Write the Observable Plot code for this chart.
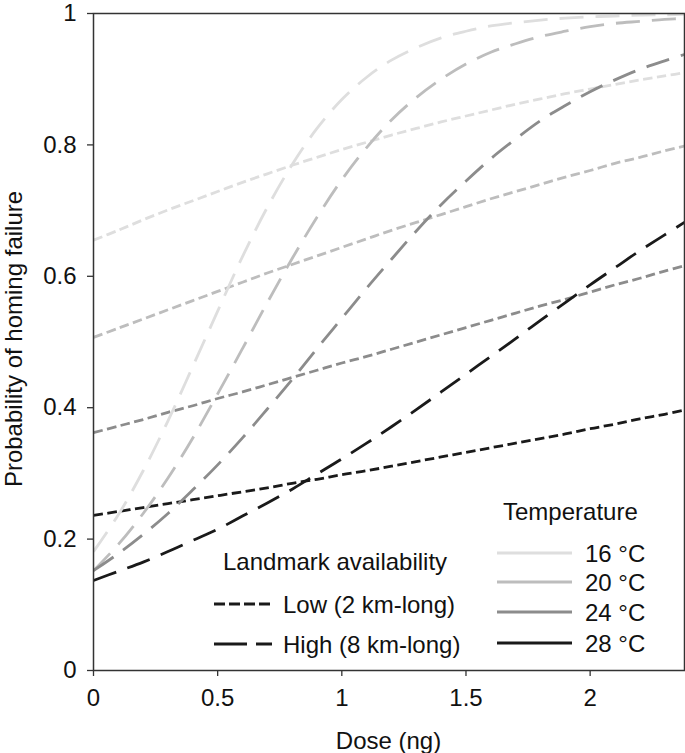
<!DOCTYPE html>
<html><head><meta charset="utf-8">
<script src="https://cdn.jsdelivr.net/npm/d3@7"></script>
<script src="https://cdn.jsdelivr.net/npm/@observablehq/plot@0.6"></script>
<style>body{margin:0;background:#fff} #chart{width:685px;height:753px}</style>
</head><body><div id="chart"></div>
<script>
// Dose (ng) sample points
const dose = [0,0.1,0.2,0.3,0.4,0.5,0.6,0.7,0.8,0.9,1.0,1.1,1.2,1.3,1.4,1.5,1.6,1.7,1.8,1.9,2.0,2.1,2.2,2.3,2.4];

// Low landmark availability (2 km-long), probability of homing failure
const low16 = [0.655,0.670,0.686,0.701,0.715,0.729,0.743,0.756,0.769,0.781,0.793,0.804,0.815,0.825,0.835,0.844,0.853,0.862,0.870,0.878,0.885,0.892,0.899,0.905,0.911];
const low20 = [0.507,0.521,0.535,0.549,0.563,0.577,0.591,0.605,0.618,0.631,0.644,0.657,0.670,0.682,0.694,0.706,0.718,0.729,0.740,0.751,0.761,0.772,0.781,0.791,0.800];
const low24 = [0.362,0.372,0.382,0.393,0.403,0.414,0.424,0.435,0.446,0.457,0.468,0.478,0.489,0.500,0.511,0.522,0.533,0.544,0.555,0.565,0.576,0.587,0.597,0.608,0.618];
const low28 = [0.236,0.242,0.248,0.254,0.260,0.266,0.272,0.278,0.285,0.291,0.298,0.304,0.311,0.318,0.325,0.332,0.339,0.346,0.353,0.360,0.368,0.375,0.383,0.390,0.398];

// High landmark availability (8 km-long)
const high16 = [0.181,0.237,0.304,0.380,0.463,0.547,0.630,0.705,0.770,0.825,0.869,0.903,0.929,0.948,0.963,0.973,0.981,0.986,0.990,0.993,0.995,0.996,0.9975,0.998,0.999];
const high20 = [0.152,0.192,0.239,0.293,0.354,0.421,0.490,0.560,0.627,0.690,0.747,0.796,0.838,0.872,0.900,0.923,0.941,0.954,0.965,0.973,0.980,0.985,0.988,0.991,0.993];
const high24 = [0.152,0.178,0.207,0.239,0.275,0.313,0.354,0.398,0.443,0.490,0.536,0.582,0.626,0.669,0.709,0.745,0.779,0.809,0.837,0.860,0.881,0.899,0.915,0.928,0.940];
const high28 = [0.137,0.151,0.165,0.181,0.198,0.215,0.235,0.255,0.276,0.299,0.322,0.346,0.371,0.397,0.424,0.451,0.478,0.505,0.533,0.560,0.587,0.613,0.639,0.663,0.687];

const temps = ["16 °C","20 °C","24 °C","28 °C"];
const tempColors = ["#dedede","#bdbdbd","#8c8c8c","#1a1a1a"];
const landmarks = ["Low (2 km-long)","High (8 km-long)"];
const landmarkDash = ["9.5,4.5","24,12"];
const legendDash = ["11,4","33,9"];
const xTicks = [0,0.5,1,1.5,2];
const yTicks = [0,0.2,0.4,0.6,0.8,1];

const lowSeries = [low16, low20, low24, low28];
const highSeries = [high16, high20, high24, high28];

function table(values){ return values.map((p,i)=>({dose: dose[i], p})); }

const lineMarks = [];
[lowSeries, highSeries].forEach((group, g) => {
  group.forEach((vals, t) => {
    lineMarks.push(Plot.line(table(vals), {x:"dose", y:"p", stroke: tempColors[t], strokeWidth: 2.8,
      strokeDasharray: landmarkDash[g], curve: "catmull-rom", clip: true, strokeLinecap: "butt"}));
  });
});

const FS = 24;
const font = "'Liberation Sans', Arial, Helvetica, sans-serif";

const chart = Plot.plot({
  width: 685, height: 753,
  marginLeft: 93, marginRight: 1, marginTop: 13, marginBottom: 83,
  style: {fontFamily: font, fontSize: FS + "px", color: "#111", background: "#fff"},
  x: {domain: [0, 2.38]},
  y: {domain: [0, 1]},
  marks: [
    Plot.axisX({ticks: xTicks, tickFormat: d => String(d), tickSize: 6, tickPadding: 12, label: null, stroke: "#333", strokeWidth: 1.3, fontSize: FS}),
    Plot.axisY({ticks: yTicks, tickFormat: d => String(d), tickSize: 6, tickPadding: 11, label: null, stroke: "#333", strokeWidth: 1.3, fontSize: FS}),
    ...lineMarks,
    Plot.frame({stroke: "#333", strokeWidth: 1.5})
  ]
});

const svg = d3.select(chart);
// axis titles
svg.append("text").attr("x", 388.5).attr("y", 749).attr("text-anchor","middle")
  .attr("font-family", font).attr("font-size", FS).attr("fill","#111").text("Dose (ng)");
svg.append("text").attr("transform","translate(22,339) rotate(-90)").attr("text-anchor","middle")
  .attr("font-family", font).attr("font-size", FS).attr("fill","#111").text("Probability of homing failure");

// Landmark legend
const lg = svg.append("g").attr("font-family", font).attr("font-size", FS).attr("fill","#111").attr("text-anchor","start");
lg.append("text").attr("x", 223).attr("y", 570).text("Landmark availability");
landmarks.forEach((name, i) => {
  const y = 604 + i*40;
  lg.append("line").attr("x1", 214).attr("x2", 272).attr("y1", y).attr("y2", y)
    .attr("stroke", "#1a1a1a").attr("stroke-width", 2.8).attr("stroke-dasharray", legendDash[i]);
  lg.append("text").attr("x", 283).attr("y", y + 8.5).text(name);
});

// Temperature legend
const tg = svg.append("g").attr("font-family", font).attr("font-size", FS).attr("fill","#111").attr("text-anchor","start");
tg.append("text").attr("x", 503).attr("y", 520).text("Temperature");
const tys = [553, 582, 612, 643];
temps.forEach((name, i) => {
  const y = tys[i];
  tg.append("line").attr("x1", 497).attr("x2", 572).attr("y1", y).attr("y2", y)
    .attr("stroke", tempColors[i]).attr("stroke-width", 3);
  tg.append("text").attr("x", 585).attr("y", y + 8.5).text(name);
});

document.getElementById("chart").appendChild(chart);
</script>
</body></html>
